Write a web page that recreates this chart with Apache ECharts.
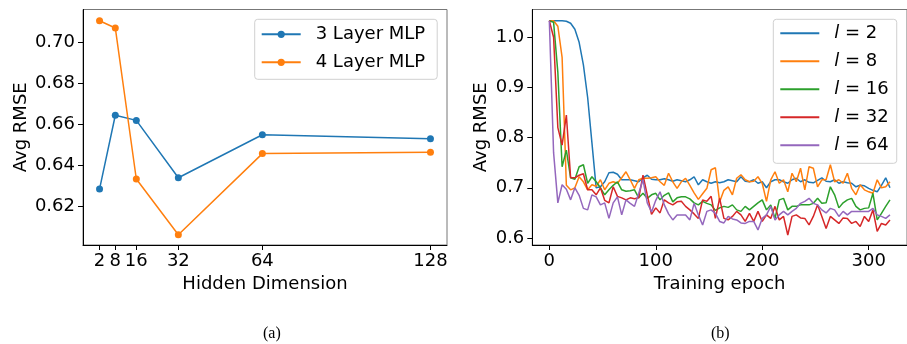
<!DOCTYPE html>
<html>
<head>
<meta charset="utf-8">
<script src="https://cdn.jsdelivr.net/npm/echarts@6/dist/echarts.min.js"></script>
<style>
  html, body { margin: 0; padding: 0; background: #fff; }
  #chart { width: 907px; height: 344px; }
</style>
</head>
<body>
<div id="chart"></div>
<script>
// ---------- (a) hidden dimension sweep ----------
const hiddenDims = [2, 8, 16, 32, 64, 128];
const mlp3 = [0.6286, 0.6646, 0.6621, 0.6341, 0.6551, 0.6532];
const mlp4 = [0.7107, 0.7072, 0.6335, 0.6063, 0.6459, 0.6465];
const leftYTicks = [0.62, 0.64, 0.66, 0.68, 0.70];

// ---------- (b) training curves ----------
const epochs = [
  0, 4, 8, 12, 16, 20, 24, 28, 32, 36,
  40, 44, 48, 52, 56, 60, 64, 68, 72, 76,
  80, 84, 88, 92, 96, 100, 104, 108, 112, 116,
  120, 124, 128, 132, 136, 140, 144, 148, 152, 156,
  160, 164, 168, 172, 176, 180, 184, 188, 192, 196,
  200, 204, 208, 212, 216, 220, 224, 228, 232, 236,
  240, 244, 248, 252, 256, 260, 264, 268, 272, 276,
  280, 284, 288, 292, 296, 300, 304, 308, 312, 316,
  320
];
const rmseL2 = [
  1.033, 1.033, 1.033, 1.033, 1.032, 1.028, 1.016, 0.990, 0.945, 0.880,
  0.790, 0.700, 0.702, 0.712, 0.730, 0.731, 0.727, 0.716, 0.716, 0.716,
  0.714, 0.712, 0.720, 0.725, 0.717, 0.716, 0.716, 0.718, 0.716, 0.713,
  0.716, 0.714, 0.712, 0.716, 0.722, 0.706, 0.716, 0.712, 0.709, 0.712,
  0.710, 0.712, 0.716, 0.714, 0.712, 0.722, 0.713, 0.712, 0.716, 0.709,
  0.712, 0.700, 0.712, 0.716, 0.716, 0.712, 0.709, 0.716, 0.719, 0.712,
  0.716, 0.711, 0.710, 0.715, 0.720, 0.713, 0.712, 0.716, 0.709, 0.712,
  0.710, 0.709, 0.702, 0.705, 0.704, 0.699, 0.695, 0.692, 0.705, 0.720,
  0.700
];
const rmseL8 = [
  1.033, 1.033, 1.022, 0.960, 0.705, 0.696, 0.700, 0.722, 0.712, 0.696,
  0.706, 0.703, 0.716, 0.696, 0.709, 0.712, 0.709, 0.720, 0.732, 0.716,
  0.699, 0.716, 0.719, 0.719, 0.720, 0.722, 0.712, 0.705, 0.729, 0.712,
  0.699, 0.712, 0.719, 0.705, 0.690, 0.677, 0.688, 0.699, 0.736, 0.740,
  0.672, 0.695, 0.702, 0.686, 0.719, 0.726, 0.716, 0.712, 0.713, 0.722,
  0.709, 0.673, 0.716, 0.732, 0.709, 0.716, 0.692, 0.729, 0.712, 0.739,
  0.696, 0.742, 0.739, 0.702, 0.716, 0.716, 0.746, 0.712, 0.716, 0.709,
  0.729, 0.699, 0.686, 0.706, 0.696, 0.692, 0.689, 0.716, 0.700, 0.702,
  0.712
];
const rmseL16 = [
  1.033, 1.030, 0.930, 0.742, 0.775, 0.720, 0.717, 0.742, 0.746, 0.709,
  0.722, 0.712, 0.700, 0.686, 0.696, 0.705, 0.712, 0.696, 0.693, 0.694,
  0.696, 0.680, 0.689, 0.679, 0.686, 0.689, 0.676, 0.685, 0.690, 0.672,
  0.680, 0.682, 0.682, 0.678, 0.670, 0.666, 0.673, 0.669, 0.666, 0.655,
  0.660, 0.663, 0.661, 0.666, 0.656, 0.653, 0.663, 0.656, 0.663, 0.670,
  0.676, 0.656, 0.666, 0.639, 0.676, 0.679, 0.656, 0.663, 0.663, 0.666,
  0.666, 0.666, 0.669, 0.679, 0.669, 0.670, 0.702, 0.686, 0.660, 0.670,
  0.676, 0.679, 0.663, 0.656, 0.659, 0.660, 0.689, 0.636, 0.649, 0.663,
  0.676
];
const rmseL32 = [
  1.033, 1.000, 0.820, 0.785, 0.845, 0.720, 0.720, 0.725, 0.728, 0.696,
  0.696, 0.686, 0.700, 0.675, 0.670, 0.702, 0.683, 0.680, 0.676, 0.680,
  0.678, 0.680, 0.725, 0.686, 0.647, 0.660, 0.650, 0.676, 0.670, 0.666,
  0.672, 0.673, 0.663, 0.656, 0.648, 0.639, 0.676, 0.673, 0.683, 0.639,
  0.679, 0.639, 0.636, 0.643, 0.653, 0.646, 0.633, 0.649, 0.633, 0.653,
  0.633, 0.646, 0.639, 0.663, 0.636, 0.643, 0.606, 0.643, 0.646, 0.640,
  0.639, 0.626, 0.643, 0.666, 0.643, 0.619, 0.643, 0.636, 0.629, 0.640,
  0.639, 0.629, 0.633, 0.623, 0.643, 0.633, 0.656, 0.613, 0.629, 0.626,
  0.636
];
const rmseL64 = [
  1.033, 0.770, 0.670, 0.706, 0.697, 0.676, 0.700, 0.685, 0.659, 0.656,
  0.686, 0.682, 0.666, 0.670, 0.639, 0.670, 0.682, 0.646, 0.676, 0.669,
  0.663, 0.689, 0.716, 0.670, 0.652, 0.675, 0.692, 0.666, 0.648, 0.636,
  0.646, 0.646, 0.646, 0.636, 0.669, 0.646, 0.626, 0.653, 0.656, 0.649,
  0.633, 0.630, 0.643, 0.638, 0.636, 0.630, 0.629, 0.633, 0.633, 0.616,
  0.639, 0.646, 0.663, 0.636, 0.646, 0.653, 0.646, 0.653, 0.659, 0.669,
  0.673, 0.679, 0.669, 0.666, 0.656, 0.650, 0.659, 0.656, 0.643, 0.653,
  0.646, 0.653, 0.653, 0.653, 0.653, 0.653, 0.659, 0.646, 0.643, 0.639,
  0.646
];
const rightYTicks = [0.6, 0.7, 0.8, 0.9, 1.0];
const epochTicks = [0, 100, 200, 300];

const FONT = 'DejaVu Sans';
const COLORS = ['#1f77b4', '#ff7f0e', '#2ca02c', '#d62728', '#9467bd'];

function pairs(xs, ys) { return xs.map((x, i) => [x, ys[i]]); }

function baseAxis(extra) {
  return Object.assign({
    axisLine: { show: true, onZero: false, lineStyle: { color: '#000', width: 1 } },
    axisTick: { show: true, length: 5, lineStyle: { color: '#000', width: 1 } },
    axisLabel: { color: '#000', fontFamily: FONT, fontSize: 18 },
    splitLine: { show: false },
    nameLocation: 'middle',
    nameTextStyle: { color: '#000', fontFamily: FONT, fontSize: 18 }
  }, extra);
}

// spacer pushes legend text away from its icon (matplotlib handletextpad)
const legendText = {
  color: '#000', fontFamily: FONT, fontSize: 18, lineHeight: 22,
  rich: {
    s: { width: 10 },
    i: { fontFamily: FONT, fontSize: 18, fontStyle: 'italic', lineHeight: 22 }
  }
};

const legendBase = {
  orient: 'vertical',
  itemWidth: 39,
  itemGap: 6,
  backgroundColor: 'rgba(255,255,255,0.8)',
  borderColor: '#d0d0d0',
  borderWidth: 1,
  borderRadius: 3,
  textStyle: legendText
};

const curves = [
  ['l=2', rmseL2], ['l=8', rmseL8], ['l=16', rmseL16], ['l=32', rmseL32], ['l=64', rmseL64]
];

const chart = echarts.init(document.getElementById('chart'), null, { renderer: 'canvas' });

const option = {
  backgroundColor: '#fff',
  animation: false,
  grid: [
    { left: 83, top: 9.5, width: 364, height: 235.5, show: true, borderColor: '#777', borderWidth: 1 },
    { left: 532.3, top: 9.5, width: 376.5, height: 235.5, show: true, borderColor: '#777', borderWidth: 1 }
  ],
  xAxis: [
    baseAxis({
      gridIndex: 0, type: 'value', min: -4.3, max: 134.3,
      name: 'Hidden Dimension', nameGap: 28,
      axisTick: { show: true, length: 5, customValues: hiddenDims, lineStyle: { color: '#000' } },
      axisLabel: { color: '#000', fontFamily: FONT, fontSize: 18, margin: 7, customValues: hiddenDims }
    }),
    baseAxis({
      gridIndex: 1, type: 'value', min: -16, max: 336,
      name: 'Training epoch', nameGap: 28,
      axisTick: { show: true, length: 5, customValues: epochTicks, lineStyle: { color: '#000' } },
      axisLabel: { color: '#000', fontFamily: FONT, fontSize: 18, margin: 7, customValues: epochTicks }
    })
  ],
  yAxis: [
    baseAxis({
      gridIndex: 0, type: 'value', min: 0.6013, max: 0.7162,
      name: 'Avg RMSE', nameGap: 53,
      axisTick: { show: true, length: 5, customValues: leftYTicks, lineStyle: { color: '#000' } },
      axisLabel: { color: '#000', fontFamily: FONT, fontSize: 18, margin: 8, customValues: leftYTicks,
        formatter: v => v.toFixed(2) }
    }),
    baseAxis({
      gridIndex: 1, type: 'value', min: 0.586, max: 1.0554,
      name: 'Avg RMSE', nameGap: 42,
      axisTick: { show: true, length: 5, customValues: rightYTicks, lineStyle: { color: '#000' } },
      axisLabel: { color: '#000', fontFamily: FONT, fontSize: 18, margin: 8, customValues: rightYTicks,
        formatter: v => v.toFixed(1) }
    })
  ],
  legend: [
    Object.assign({}, legendBase, {
      left: 254.7, top: 19.3, padding: [4, 12, 6, 6], itemHeight: 9,
      data: ['3 Layer MLP', '4 Layer MLP'],
      formatter: name => '{s|}' + name
    }),
    Object.assign({}, legendBase, {
      left: 773.3, top: 19.3, padding: [3, 8, 7, 7], itemHeight: 2, icon: 'rect',
      data: curves.map(c => c[0]),
      formatter: name => '{s|}{i|l} = ' + name.split('=')[1]
    })
  ],
  graphic: [
    { type: 'text', left: 263, top: 326, style: { text: '(a)', font: '16px "Liberation Serif"', fill: '#000' } },
    { type: 'text', left: 711, top: 326, style: { text: '(b)', font: '16px "Liberation Serif"', fill: '#000' } }
  ],
  series: [
    {
      name: '3 Layer MLP', type: 'line', xAxisIndex: 0, yAxisIndex: 0,
      data: pairs(hiddenDims, mlp3), color: COLORS[0],
      symbol: 'circle', symbolSize: 7, lineStyle: { width: 1.5 }
    },
    {
      name: '4 Layer MLP', type: 'line', xAxisIndex: 0, yAxisIndex: 0,
      data: pairs(hiddenDims, mlp4), color: COLORS[1],
      symbol: 'circle', symbolSize: 7, lineStyle: { width: 1.5 }
    }
  ].concat(curves.map((c, i) => ({
    name: c[0], type: 'line', xAxisIndex: 1, yAxisIndex: 1,
    data: pairs(epochs, c[1]), color: COLORS[i],
    symbol: 'none', lineStyle: { width: 1.5 }
  })))
};

chart.setOption(option);
</script>
</body>
</html>
